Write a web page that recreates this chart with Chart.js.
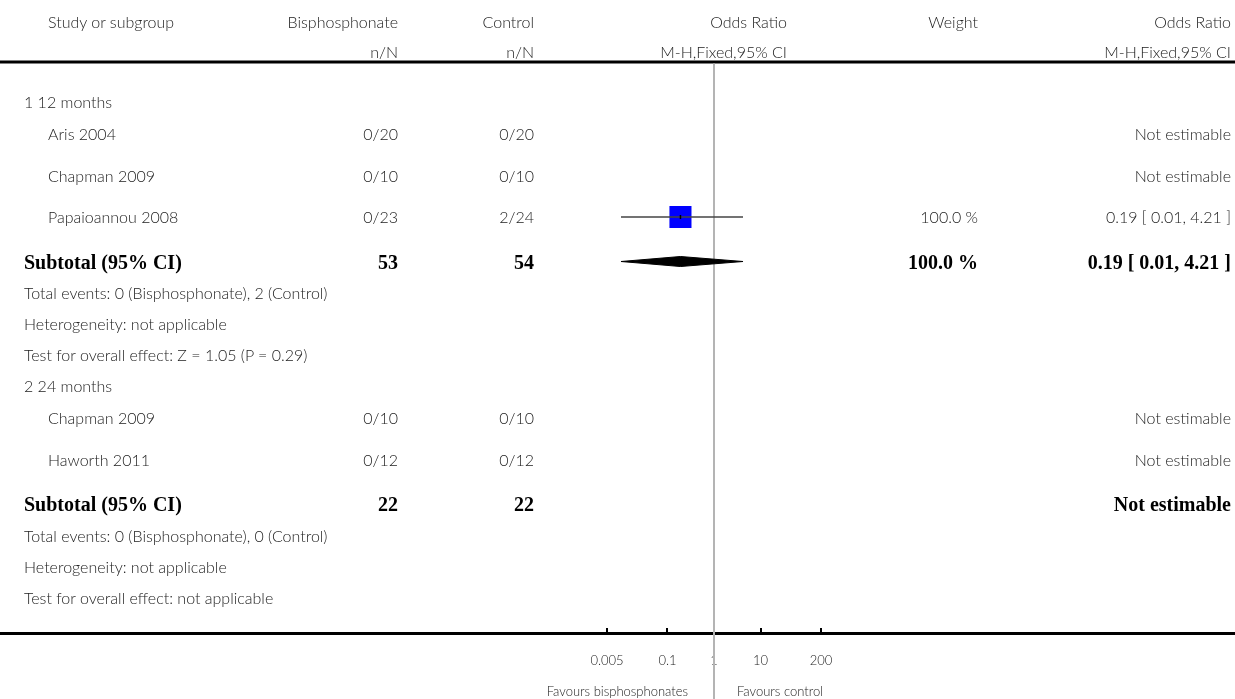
<!DOCTYPE html>
<html>
<head>
<meta charset="utf-8">
<script src="https://cdn.jsdelivr.net/npm/chart.js@4.4.1/dist/chart.umd.min.js"></script>
<style>
body{margin:0;background:#fff;}
#wrap{position:relative;width:1235px;height:699px;overflow:hidden;}
#grafico{position:absolute;left:0;top:0;}
.t{position:absolute;white-space:nowrap;font-family:Lato,'Open Sans',sans-serif;font-weight:300;font-size:16px;color:#222;line-height:1;transform:translateY(-50%);}
.r{transform:translate(-100%,-50%);}
.b{font-family:'Liberation Serif','Times New Roman',serif;font-weight:bold;font-size:20px;color:#000;}
.s{font-size:13px;}
</style>
</head>
<body>
<div id="wrap">
<canvas id="grafico" width="1235" height="699"></canvas>
</div>
<script>
// dados do forest plot
const grupos = ['1 12 months', '2 24 months']
const estudos = [['Aris 2004', 'Chapman 2009', 'Papaioannou 2008'], ['Chapman 2009', 'Haworth 2011']]
const bisEventos = [[0, 0, 0], [0, 0]]
const bisTotal = [[20, 10, 23], [10, 12]]
const ctrlEventos = [[0, 0, 2], [0, 0]]
const ctrlTotal = [[20, 10, 24], [10, 12]]
const oddsRatio = [[null, null, 0.19], [null, null]]
const icInf = [[null, null, 0.01], [null, null]]
const icSup = [[null, null, 4.21], [null, null]]
const peso = [[null, null, 100.0], [null, null]]
const subBis = [53, 22]
const subCtrl = [54, 22]
const subOR = [0.19, null]
const subInf = [0.01, null]
const subSup = [4.21, null]
const subPeso = [100.0, null]
const notas = [
  ['Total events: 0 (Bisphosphonate), 2 (Control)', 'Heterogeneity: not applicable', 'Test for overall effect: Z = 1.05 (P = 0.29)'],
  ['Total events: 0 (Bisphosphonate), 0 (Control)', 'Heterogeneity: not applicable', 'Test for overall effect: not applicable']
]
const tickValores = [0.005, 0.1, 1, 10, 200]
const tickTextos = ['0.005', '0.1', '1', '10', '200']

// layout (pixels)
const linhaTopo = 62
const espaco = { inicio: 40, grupo: 31, estudo_grupo: 32, estudo_estudo: 41.5, sub_estudo: 44.5, nota: 31.3 }
const col = { nivel0: 24, estudo: 48, bis: 398, ctrl: 534, plot: 787, peso: 978, or: 1231 }
const meioLosango = 5

const wrap = document.querySelector('#wrap')
function txt(s, x, y, cls) {
  const d = document.createElement('div')
  d.className = 't ' + (cls || '')
  d.textContent = s
  d.style.left = x + 'px'
  d.style.top = y + 'px'
  wrap.appendChild(d)
}
const fmtOR = (o, a, b) => o.toFixed(2) + ' [ ' + a.toFixed(2) + ', ' + b.toFixed(2) + ' ]'

// cabecalho
txt('Study or subgroup', col.estudo, 22)
txt('Bisphosphonate', col.bis, 22, 'r')
txt('Control', col.ctrl, 22, 'r')
txt('Odds Ratio', col.plot, 22, 'r')
txt('Weight', col.peso, 22, 'r')
txt('Odds Ratio', col.or, 22, 'r')
txt('n/N', col.bis, 52, 'r')
txt('n/N', col.ctrl, 52, 'r')
txt('M-H,Fixed,95% CI', col.plot, 52, 'r')
txt('M-H,Fixed,95% CI', col.or, 52, 'r')

// linhas da tabela
let y = linhaTopo
const quadrados = []
const losangos = []
grupos.forEach((g, gi) => {
  y += gi === 0 ? espaco.inicio : espaco.grupo
  txt(g, col.nivel0, y)
  estudos[gi].forEach((e, i) => {
    y += i === 0 ? espaco.estudo_grupo : espaco.estudo_estudo
    txt(e, col.estudo, y)
    txt(bisEventos[gi][i] + '/' + bisTotal[gi][i], col.bis, y, 'r')
    txt(ctrlEventos[gi][i] + '/' + ctrlTotal[gi][i], col.ctrl, y, 'r')
    if (oddsRatio[gi][i] === null) {
      txt('Not estimable', col.or, y, 'r')
    } else {
      txt(peso[gi][i].toFixed(1) + ' %', col.peso, y, 'r')
      txt(fmtOR(oddsRatio[gi][i], icInf[gi][i], icSup[gi][i]), col.or, y, 'r')
      quadrados.push({ or: oddsRatio[gi][i], lo: icInf[gi][i], hi: icSup[gi][i], y: y })
    }
  })
  y += espaco.sub_estudo
  txt('Subtotal (95% CI)', col.nivel0, y, 'b')
  txt(String(subBis[gi]), col.bis, y, 'b r')
  txt(String(subCtrl[gi]), col.ctrl, y, 'b r')
  if (subOR[gi] === null) {
    txt('Not estimable', col.or, y, 'b r')
  } else {
    txt(subPeso[gi].toFixed(1) + ' %', col.peso, y, 'b r')
    txt(fmtOR(subOR[gi], subInf[gi], subSup[gi]), col.or, y, 'b r')
    losangos.push({ or: subOR[gi], lo: subInf[gi], hi: subSup[gi], y: y })
  }
  notas[gi].forEach(n => {
    y += espaco.nota
    txt(n, col.nivel0, y)
  })
})

const datasets = []
quadrados.forEach(q => {
  datasets.push({ type: 'line', data: [{ x: q.lo, y: q.y }, { x: q.hi, y: q.y }], borderColor: '#444', borderWidth: 1.5, pointRadius: 0, order: 1 })
  datasets.push({ data: [{ x: q.or, y: q.y }], pointStyle: 'rect', pointRadius: 15.6, backgroundColor: '#0000ff', borderWidth: 0, order: 2 })
  datasets.push({ data: [{ x: q.or, y: q.y }], pointStyle: 'line', rotation: 90, pointRadius: 2, borderColor: '#000', borderWidth: 1.5, order: 0 })
})
losangos.forEach(l => {
  datasets.push({
    type: 'line',
    data: [{ x: l.lo, y: l.y }, { x: l.or, y: l.y - meioLosango }, { x: l.hi, y: l.y }, { x: l.or, y: l.y + meioLosango }, { x: l.lo, y: l.y }],
    fill: 'shape', backgroundColor: '#000', borderColor: '#000', borderWidth: 1, pointRadius: 0, tension: 0, order: 1
  })
})

const linhas = {
  id: 'linhas',
  beforeDatasetsDraw(chart) {
    const { ctx, chartArea } = chart
    const cx = chart.scales.x.getPixelForValue(1)
    ctx.save()
    ctx.fillStyle = '#000'
    ctx.fillRect(0, linhaTopo - 1.5, chart.width, 3)
    ctx.fillRect(0, chartArea.bottom + 4, chart.width, 3)
    ctx.strokeStyle = '#b4b4b4'
    ctx.lineWidth = 2
    ctx.beginPath()
    ctx.moveTo(cx, linhaTopo + 1.5)
    ctx.lineTo(cx, chart.height)
    ctx.stroke()
    ctx.restore()
  }
}

const ctx = document.getElementById('grafico')
const grafico = new Chart(ctx, {
  type: 'scatter',
  data: { datasets: datasets },
  options: {
    responsive: false,
    animation: false,
    layout: { autoPadding: false, padding: { left: 607, right: 414, top: 0, bottom: 0 } },
    plugins: { legend: { display: false }, tooltip: { enabled: false } },
    scales: {
      x: {
        type: 'logarithmic',
        min: 0.005,
        max: 200,
        afterBuildTicks: s => { s.ticks = tickValores.map(v => ({ value: v })) },
        afterFit: s => { s.height = 71 },
        ticks: {
          callback: (v, i) => tickTextos[i],
          autoSkip: false,
          maxRotation: 0,
          padding: 20,
          color: '#222',
          font: { family: 'Lato', size: 13, weight: 300 }
        },
        grid: { drawOnChartArea: false, drawTicks: true, tickLength: 5, color: '#000', lineWidth: 2 },
        border: { display: false }
      },
      y: { type: 'linear', min: 0, max: 628, reverse: true, display: false }
    }
  },
  plugins: [linhas]
})

// rotulos abaixo do eixo
const cx = grafico.scales.x.getPixelForValue(1)
txt('Favours bisphosphonates', cx - 26, 691, 's r')
txt('Favours control', cx + 23, 691, 's')
</script>
</body>
</html>
